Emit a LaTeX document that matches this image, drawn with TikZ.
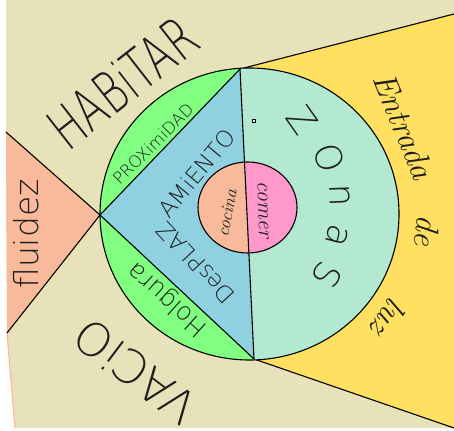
\documentclass[tikz,border=0pt]{standalone}
\usepackage{fontspec}
\IfFontExistsTF{DejaVu Sans ExtraLight}{\newfontfamily\hand{DejaVu Sans ExtraLight}}{\newfontfamily\hand{Fira Sans}}
\definecolor{beige}{HTML}{E8E2BA}
\definecolor{salmon}{HTML}{F9BA9B}
\definecolor{lgreen}{HTML}{80FF80}
\definecolor{lblue}{HTML}{90D1E1}
\definecolor{mint}{HTML}{B3E8D1}
\definecolor{rosa}{HTML}{FF99CC}
\definecolor{amarillo}{HTML}{FFE060}
\definecolor{ink}{HTML}{1E1E1E}
\tikzset{
  edge/.style={draw=black, line width=1.1pt, line join=round},
  txt/.style={text=ink, inner sep=0pt},
}
\newcommand{\hsz}[1]{\hand\fontsize{#1}{#1}\selectfont}
\newcommand{\csz}[1]{\itshape\fontsize{#1}{#1}\selectfont}
\begin{document}
\begin{tikzpicture}[x=1pt,y=-1pt]
\useasboundingbox (0,0) rectangle (454,430);
\fill[white] (0,0) rectangle (454,430);
\coordinate (T) at (240,69);
\coordinate (B) at (254,359);
\coordinate (L) at (100,215);
\coordinate (C) at (249.5,214);
\coordinate (c) at (247.5,207.5);
\coordinate (ya) at (454,14);
\coordinate (yb) at (454,428);
\coordinate (sa) at (6,132);
\coordinate (sb) at (7,333);
% background
\fill[beige] (6,0) -- (454,0) -- (454,428) -- (15,428) -- (sb) -- (sa) -- cycle;
\fill[salmon] (sa) -- (L) -- (sb) -- cycle;
\draw[salmon, line width=1.2pt] (sb) -- (15,428);
\fill[amarillo] (T) -- (ya) -- (yb) -- (B) -- cycle;
\draw[edge] (sa) -- (L) -- (sb);
\draw[edge] (T) -- (ya);
\draw[edge] (B) -- (yb);
% big circle
\fill[lgreen] (C) ellipse [x radius=149.5pt, y radius=146pt];
\begin{scope}
  \clip (236.7,-5) -- (460,-5) -- (460,435) -- (257.7,435) -- cycle;
  \fill[mint] (C) ellipse [x radius=149.5pt, y radius=146pt];
  \fill[rosa] (c) ellipse [x radius=49.5pt, y radius=45.5pt];
\end{scope}
\fill[lblue] (L) -- (T) -- (B) -- cycle;
\begin{scope}
  \clip (236.7,-5) -- (-5,-5) -- (-5,435) -- (257.7,435) -- cycle;
  \fill[salmon] (c) ellipse [x radius=49.5pt, y radius=45.5pt];
\end{scope}
\draw[edge] (C) ellipse [x radius=149.5pt, y radius=146pt];
\draw[edge] (L) -- (T) -- (B) -- cycle;
\draw[edge] (c) ellipse [x radius=49.5pt, y radius=45.5pt];
\draw[black, line width=0.5pt, fill=white] (252.5,119.5) rectangle (255.5,122.5);
% texts
\node[txt, font=\hsz{58}, rotate=38, xscale=0.69] (habitar) at (122,82) {HABiTAR};
\node[txt, font=\hsz{16.5}, rotate=45] (prox) at (153,144) {PROXimiDAD};
\node[txt, font=\hsz{23}, rotate=50] (amiento) at (197,173) {AMiENTO};
\node[txt, font=\hsz{23}, rotate=133] (despla) at (196,263) {DesPLAZ};
\node[txt, font=\hsz{25}, rotate=138] (holgura) at (168,299) {Holgura};
\node[txt, font=\hsz{46}, rotate=143] (vacio) at (135,372) {VACiO};
\node[txt, font=\hsz{33}, rotate=90] (fluidez) at (26,234) {fluidez};
\node[txt, font=\hsz{36}, rotate=-55] (z1) at (302,120) {Z};
\node[txt, font=\hsz{36}, rotate=-72] (z2) at (329,158) {O};
\node[txt, font=\hsz{36}, rotate=-88] (z3) at (340,196) {n};
\node[txt, font=\hsz{36}, rotate=-105] (z4) at (337,236) {a};
\node[txt, font=\hsz{36}, rotate=-120] (z5) at (327,275) {S};
\node[txt, font=\csz{33}, rotate=-68] (entrada) at (404,126) {Entrada};
\node[txt, font=\csz{33}, rotate=-95] (de) at (427,231) {de};
\node[txt, font=\csz{33}, rotate=-125] (luz) at (389,318) {luz};
\node[txt, font=\csz{18}, rotate=79] (cocina) at (227,213) {cocina};
\node[txt, font=\csz{22}, rotate=-88] (comer) at (263,210) {comer};
\end{tikzpicture}
\end{document}
